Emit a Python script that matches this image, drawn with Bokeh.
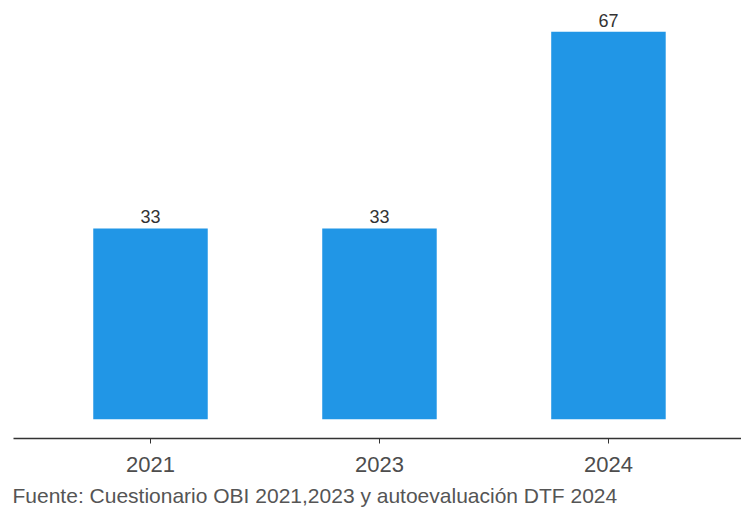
from bokeh.plotting import figure
from bokeh.models import ColumnDataSource, Range1d, FixedTicker, Title, LabelSet
from bokeh.core.properties import value
from bokeh.embed import file_html
from bokeh.resources import INLINE

years = ["2021", "2023", "2024"]
values = [33, 33, 67]
positions = [1, 2, 3]
footer = "Fuente: Cuestionario OBI 2021,2023 y autoevaluación DTF 2024"

src = ColumnDataSource(dict(x=positions, top=values, lab=[str(v) for v in values]))

p = figure(width=741, height=514, output_backend="svg", toolbar_location=None,
           x_range=Range1d(0.4017, 3.581), y_range=Range1d(-3.35, 70.35),
           y_axis_location=None, min_border_left=13, min_border_right=0,
           min_border_top=12, min_border_bottom=76)
p.outline_line_color = None
p.xgrid.visible = False
p.ygrid.visible = False
p.background_fill_color = "white"

p.vbar(x="x", top="top", bottom=0, width=0.5, source=src,
       fill_color="#2196E6", line_color=None)

labels = LabelSet(x="x", y="top", text="lab", source=src, text_align="center",
                  text_baseline="alphabetic", y_offset=5, text_font_size="18px",
                  text_color="#333333", text_font=value("Liberation Sans"))
p.add_layout(labels)

ax = p.xaxis[0]
ax.ticker = FixedTicker(ticks=positions)
ax.major_label_overrides = {pos: y for pos, y in zip(positions, years)}
ax.axis_line_color = "#333333"
ax.axis_line_width = 1.5
ax.major_tick_line_color = "#333333"
ax.major_tick_in = 0
ax.major_tick_out = 5
ax.minor_tick_line_color = None
ax.major_label_text_font_size = "22px"
ax.major_label_text_font = "Liberation Sans"
ax.major_label_text_color = "#4D4D4D"
ax.major_label_standoff = 13

t = Title(text=footer, align="left", text_font_size="21px", text_font="Liberation Sans",
          text_font_style="normal", text_color="#555555", offset=-1, standoff=14)
p.add_layout(t, "below")

open("out.html", "w").write(file_html(p, INLINE))
